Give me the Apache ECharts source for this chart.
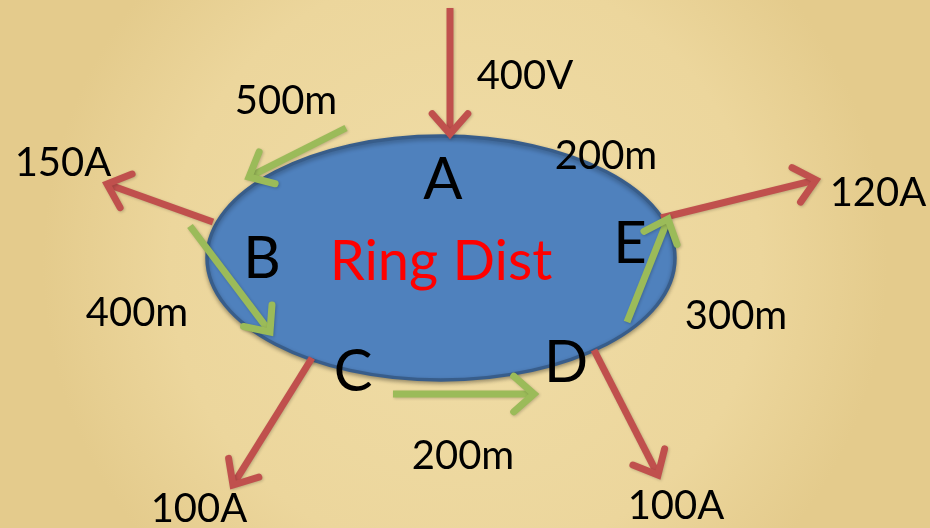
<!DOCTYPE html>
<html><head><meta charset="utf-8">
<script src="https://cdn.jsdelivr.net/npm/echarts@6/dist/echarts.min.js"></script>
<style>html,body{margin:0;padding:0;}#c{width:930px;height:528px;}</style>
</head><body><div id="c"></div>
<script>
// Ring distribution diagram (coordinates in a 930x528 data space)
const ringEllipse = [[441, 258, 234, 122]]; // cx, cy, rx, ry
const redArrows = [      // x1, y1, x2(tip), y2(tip)
  [450, 8, 450, 134],
  [213, 222, 107, 184],
  [661, 218, 816, 180],
  [312, 358, 233, 485],
  [594, 350, 658, 475]
];
const greenArrows = [
  [346, 128, 249, 177],
  [190, 226, 270, 332],
  [393, 394, 534, 394],
  [627, 322, 668, 219]
];
const nodeLabels = [[443, 180, 'A'], [262, 259, 'B'], [353, 372, 'C'], [566, 363, 'D'], [630, 244, 'E']];
const valueLabels = [
  [525, 76, '400V'], [286, 101, '500m'], [606, 156, '200m'], [63, 163, '150A'],
  [878, 193, '120A'], [137, 313, '400m'], [736, 316, '300m'], [463, 456, '200m'],
  [199, 509, '100A'], [676, 506, '100A']
];
const titleLabel = [[441, 262, 'Ring Dist']];

function arrowRender(color) {
  return function (params, api) {
    const p1 = api.coord([api.value(0), api.value(1)]);
    const p2 = api.coord([api.value(2), api.value(3)]);
    const ang = Math.atan2(p2[1] - p1[1], p2[0] - p1[0]);
    const L = 27, a = 0.72;
    const h1 = [p2[0] - L * Math.cos(ang - a), p2[1] - L * Math.sin(ang - a)];
    const h2 = [p2[0] - L * Math.cos(ang + a), p2[1] - L * Math.sin(ang + a)];
    const style = { stroke: color, lineWidth: 7, fill: null, lineCap: 'round', lineJoin: 'miter',
      shadowBlur: 3, shadowColor: 'rgba(0,0,0,0.2)', shadowOffsetX: 1, shadowOffsetY: 1 };
    return { type: 'group', children: [
      { type: 'line', shape: { x1: p1[0], y1: p1[1], x2: p2[0] - 3 * Math.cos(ang), y2: p2[1] - 3 * Math.sin(ang) }, style: Object.assign({}, style, {lineCap: 'butt'}) },
      { type: 'polyline', shape: { points: [h1, p2, h2] }, style: style }
    ]};
  };
}

function textSeries(data, size, color) {
  return {
    type: 'custom', data: data, z: 10, silent: true,
    encode: { x: 0, y: 1 },
    renderItem: function (params, api) {
      const p = api.coord([api.value(0), api.value(1)]);
      return { type: 'text', x: p[0], y: p[1],
        style: { text: data[params.dataIndex][2], fill: color, font: size + 'px Lato',
          align: 'center', verticalAlign: 'middle' } };
    }
  };
}

const chart = echarts.init(document.getElementById('c'));
chart.setOption({
  backgroundColor: {
    type: 'radial', x: 0.5, y: 0.5, r: 0.8,
    colorStops: [{ offset: 0, color: '#f0dda7' }, { offset: 0.7, color: '#ecd69c' }, { offset: 1, color: '#e4cb8c' }]
  },
  animation: false,
  grid: { left: 0, right: 0, top: 0, bottom: 0 },
  xAxis: { type: 'value', min: 0, max: 930, show: false },
  yAxis: { type: 'value', min: 0, max: 528, inverse: true, show: false },
  series: [
    {
      type: 'custom', data: ringEllipse, z: 1, silent: true,
      renderItem: function (params, api) {
        const c = api.coord([api.value(0), api.value(1)]);
        const s = api.size([api.value(2), api.value(3)]);
        return { type: 'ellipse', shape: { cx: c[0], cy: c[1], rx: s[0], ry: s[1] },
          style: { fill: '#4f81bd', stroke: '#385d8a', lineWidth: 3.5,
            shadowBlur: 4, shadowColor: 'rgba(0,0,0,0.3)', shadowOffsetY: 2 } };
      }
    },
    { type: 'custom', data: redArrows, z: 3, silent: true, renderItem: arrowRender('#c0504d') },
    { type: 'custom', data: greenArrows, z: 4, silent: true, renderItem: arrowRender('#9bbb59') },
    textSeries(nodeLabels, 58, '#000000'),
    textSeries(valueLabels, 40, '#000000'),
    textSeries(titleLabel, 56, '#ff0000')
  ]
});
</script></body></html>
